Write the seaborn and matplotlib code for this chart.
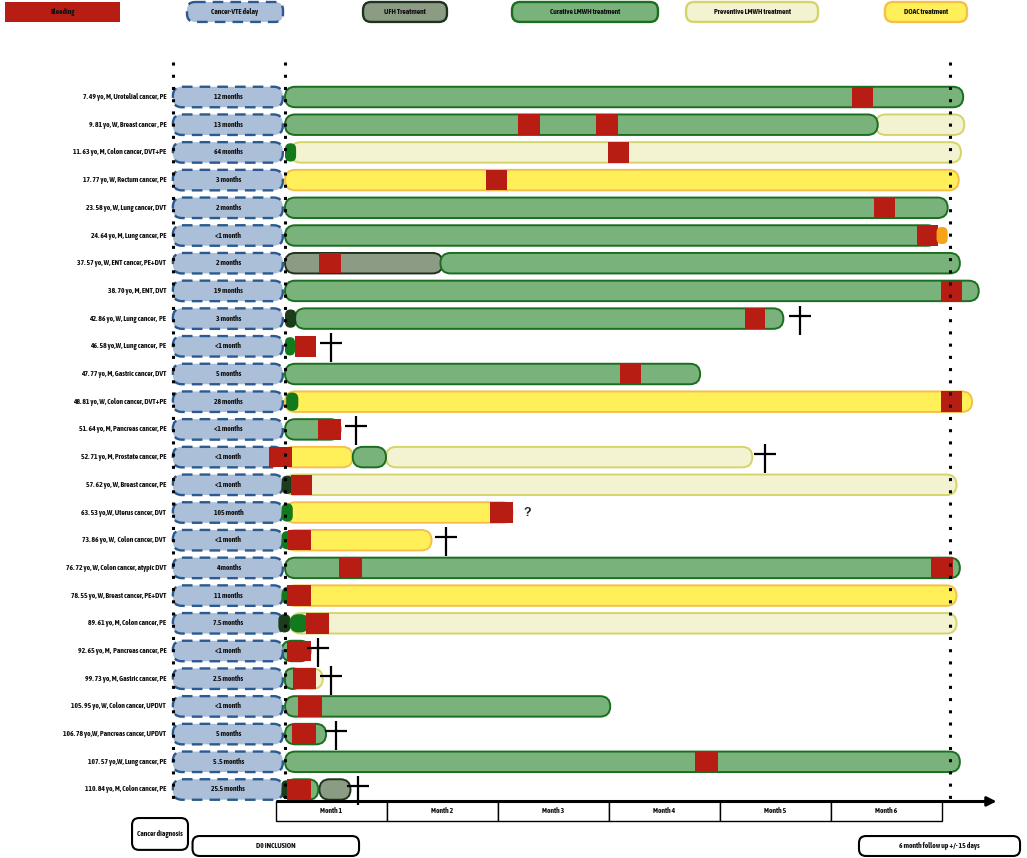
import matplotlib
matplotlib.use("Agg")
import matplotlib.pyplot as plt
import seaborn as sns
import pandas as pd
from matplotlib.patches import FancyBboxPatch, Rectangle
from matplotlib.path import Path
from matplotlib.markers import MarkerStyle

sns.set_theme(style="white")
plt.rcParams['font.family'] = ['Asap Condensed', 'Liberation Sans', 'DejaVu Sans']

# ---------------- data ----------------
patients = [
    "7. 49 yo, M, Urotelial cancer, PE", "9. 81 yo, W, Breast cancer , PE",
    "11. 63 yo, M, Colon cancer, DVT+PE", "17. 77 yo, W, Rectum cancer, PE",
    "23. 58 yo, W, Lung cancer, DVT", "24. 64 yo, M, Lung cancer, PE",
    "37. 57 yo, W, ENT cancer, PE+DVT", "38. 70 yo, M, ENT, DVT",
    "42. 86 yo, W, Lung cancer,  PE", "46. 58 yo,W, Lung cancer,  PE",
    "47. 77 yo, M, Gastric cancer, DVT", "48. 81 yo, W, Colon cancer, DVT+PE",
    "51. 64 yo, M, Pancreas cancer, PE", "52. 71 yo, M, Prostate cancer, PE",
    "57. 62 yo, W, Breast cancer, PE", "63. 53 yo,W, Uterus cancer, DVT",
    "73. 86 yo, W,  Colon cancer, DVT", "76. 72 yo, W, Colon cancer, atypic DVT",
    "78. 55 yo, W, Breast cancer, PE+DVT", "89. 61 yo, M, Colon cancer, PE",
    "92. 65 yo, M,  Pancreas cancer, PE", "99. 73 yo, M, Gastric cancer, PE",
    "105. 95 yo, W, Colon cancer, UPDVT", "106. 78 yo,W, Pancreas cancer, UPDVT",
    "107. 57 yo,W, Lung cancer, PE", "110. 84 yo, M, Colon cancer, PE",
]
delays = ["12 months", "13 months", "64 months", "3 months", "2 months", "<1 month",
          "2 months", "19 months", "3 months", "<1 month", "5 months", "28 months",
          "<1 months", "<1 month", "<1 month", "105 month", "<1 month", "4 months",
          "11 months", "7.5 months", "<1 month", "2.5 months", "<1 month", "5 months",
          "5 .5 months", "25.5 months"]

# treatment segments: (row, start month, end month)
ufh = [(6, 0.0, 1.42), (25, 0.31, 0.59)]
curative = [(0, 0.0, 6.11), (1, 0.0, 5.34), (4, 0.0, 5.97), (5, 0.0, 5.88),
            (6, 1.40, 6.08), (7, 0.0, 6.25), (8, 0.09, 4.49), (10, 0.0, 3.74),
            (12, 0.0, 0.50), (13, 0.61, 0.91), (17, 0.0, 6.08), (20, -0.03, 0.23),
            (22, 0.0, 2.93), (23, 0.0, 0.37), (24, 0.0, 6.08), (25, 0.0, 0.30)]
preventive = [(1, 5.32, 6.12), (2, 0.05, 6.09), (13, 0.91, 4.21), (14, 0.0, 6.05),
              (19, 0.05, 6.05), (21, 0.0, 0.34)]
curative_late = [(21, 0.0, 0.14)]
doac = [(3, 0.0, 6.07), (11, 0.0, 6.19), (13, -0.02, 0.61), (15, 0.0, 2.05),
        (16, 0.0, 1.32), (18, 0.0, 6.05)]
other_doac = [(5, 5.87, 5.97)]
initial_dark = [(8, 0.0, 0.10), (14, -0.03, 0.07), (19, -0.06, 0.05), (25, -0.03, 0.05)]
initial_green = [(2, 0.0, 0.10), (9, 0.0, 0.09), (11, 0.01, 0.12), (15, -0.03, 0.07),
                 (16, -0.03, 0.07), (18, -0.03, 0.10), (19, 0.04, 0.22)]
bleeding = [(0, 5.11, 5.30), (1, 2.10, 2.30), (1, 2.80, 3.00), (2, 2.91, 3.10),
            (3, 1.81, 2.00), (4, 5.31, 5.50), (5, 5.69, 5.88), (6, 0.31, 0.50),
            (7, 5.91, 6.10), (8, 4.14, 4.32), (9, 0.09, 0.28), (10, 3.02, 3.21),
            (11, 5.91, 6.10), (12, 0.30, 0.50), (13, -0.14, 0.06), (14, 0.05, 0.24),
            (15, 1.85, 2.05), (16, 0.03, 0.23), (17, 0.49, 0.69), (17, 5.82, 6.02),
            (18, 0.02, 0.23), (19, 0.19, 0.40), (20, 0.02, 0.23), (21, 0.07, 0.28),
            (22, 0.12, 0.33), (23, 0.06, 0.28), (24, 3.69, 3.90), (25, 0.02, 0.23)]
death_rows = [8, 9, 12, 13, 16, 20, 21, 23, 25]
death_month = [4.64, 0.41, 0.64, 4.32, 1.45, 0.30, 0.41, 0.46, 0.66]
unknown_rows = [15]
unknown_month = [2.18]
month_labels = ["Month 1", "Month 2", "Month 3", "Month 4", "Month 5", "Month 6"]
legend_labels = ["Bleeding", "Cancer-VTE delay", "UFH Treatment",
                 "Curative LMWH treatment", "Preventive LMWH treatment", "DOAC treatment"]

# ---------------- styles ----------------
C_BLEED = "#b81d13"
C_DELAY, E_DELAY = "#abbfd8", "#2a5a90"
C_UFH, E_UFH = "#8c9c84", "#1f331f"
C_CUR, E_CUR = "#79b27b", "#1b6e20"
C_PREV, E_PREV = "#f3f3d1", "#d4d46a"
C_DOAC, E_DOAC = "#fff05a", "#f5c04a"
C_ORANGE = "#f5a416"
C_DARK = "#1b3d1b"
C_GREEN = "#127a1c"
BAR_H = 0.74
FS = 5.4
TXT = dict(fontsize=FS, fontweight="bold", color="#111111")

W_PX, H_PX = 1027, 858
XLIM = (-2.5676, 6.6847)
YLIM = (27.473, -3.502)
PXM = W_PX / (XLIM[1] - XLIM[0])
PXR = H_PX / (YLIM[0] - YLIM[1])

fig = plt.figure(figsize=(W_PX / 100, H_PX / 100), dpi=100)
ax = fig.add_axes([0, 0, 1, 1])
ax.set_xlim(*XLIM)
ax.set_ylim(*YLIM)
ax.axis("off")


def pill(x0, x1, y, fc, ec, lw=1.4, ls="-", h=BAR_H, z=2, r_px=None):
    w = x1 - x0
    if r_px is None:
        r_px = min(h * PXR / 2, w * PXM / 2)
    r_px = min(r_px, h * PXR / 2, w * PXM / 2)
    p = FancyBboxPatch((x0, y - h / 2), w, h,
                       boxstyle=f"round,pad=0,rounding_size={r_px / PXM}",
                       mutation_aspect=PXM / PXR, fc=fc, ec=ec, lw=lw, ls=ls, zorder=z)
    ax.add_patch(p)


def rect(x0, x1, y, fc, h=BAR_H, z=5, ec="none", lw=0):
    ax.add_patch(Rectangle((x0, y - h / 2), x1 - x0, h, fc=fc, ec=ec, lw=lw, zorder=z))


# vertical dotted guides
for xg in (-1.009, 0.0, 5.99):
    ax.plot([xg, xg], [-1.26, 25.38], color="black", lw=2.2, ls=(0, (1, 3.0)), zorder=7)

# rows
for i, (lab, d) in enumerate(zip(patients, delays)):
    ax.text(-1.07, i, lab, ha="right", va="center", **TXT)
    pill(-1.01, -0.02, i, C_DELAY, E_DELAY, lw=1.7, ls=(0, (4.5, 3)), z=3, r_px=9)
    ax.text(-0.51, i, d, ha="center", va="center", zorder=4, **TXT)

for r, a, b in preventive:
    pill(a, b, r, C_PREV, E_PREV, z=2)
for r, a, b in doac:
    pill(a, b, r, C_DOAC, E_DOAC, z=2)
for r, a, b in ufh:
    pill(a, b, r, C_UFH, E_UFH, z=2)
for r, a, b in curative:
    pill(a, b, r, C_CUR, E_CUR, z=2.5)
for r, a, b in curative_late:
    pill(a, b, r, C_CUR, E_CUR, z=2.6)
for r, a, b in other_doac:
    pill(a, b, r, C_ORANGE, "none", lw=0, z=5.5, h=0.62)
for r, a, b in initial_dark:
    pill(a, b, r, C_DARK, "none", lw=0, z=4, h=0.66)
for r, a, b in initial_green:
    pill(a, b, r, C_GREEN, "none", lw=0, z=4, h=0.66)
for r, a, b in bleeding:
    rect(a, b, r, C_BLEED)

# deaths as dagger markers
dagger = Path([(0, 13), (0, -16), (-11, 3), (11, 3)],
              [Path.MOVETO, Path.LINETO, Path.MOVETO, Path.LINETO])
deaths = pd.DataFrame({"month": death_month, "row": death_rows})
sns.scatterplot(data=deaths, x="month", y="row", ax=ax, marker=MarkerStyle(dagger),
                s=(32 * 0.72) ** 2, color="black", edgecolor="black", linewidth=1.6,
                zorder=8, legend=False)
for r, m in zip(unknown_rows, unknown_month):
    ax.text(m, r, "?", ha="center", va="center", fontsize=9, fontweight="bold",
            family=["Liberation Sans", "DejaVu Sans"], zorder=8)
ax.set_xlim(*XLIM)
ax.set_ylim(*YLIM)

# legend row
LY = -3.07
rect(-2.52, -1.49, LY, C_BLEED, h=0.72)
ax.text((-2.52 - 1.49) / 2, LY, legend_labels[0], ha="center", va="center", zorder=6, **TXT)
leg_items = [(-0.883, -0.018, C_DELAY, E_DELAY, (0, (4.5, 3))),
             (0.703, 1.459, C_UFH, E_UFH, "-"),
             (2.045, 3.36, C_CUR, E_CUR, "-"),
             (3.613, 4.802, C_PREV, E_PREV, "-"),
             (5.405, 6.144, C_DOAC, E_DOAC, "-")]
for (a, b, fc, ec, ls), lab in zip(leg_items, legend_labels[1:]):
    pill(a, b, LY, fc, ec, lw=1.7, ls=ls, h=0.72, r_px=8)
    ax.text((a + b) / 2, LY, lab, ha="center", va="center", zorder=6, **TXT)

# time axis
for k, lab in enumerate(month_labels):
    x0 = -0.081 + k
    ax.add_patch(Rectangle((x0, 25.43), 1.0, 0.72, fc="white", ec="black", lw=1.0, zorder=6))
    ax.text(x0 + 0.5, 25.43 + 0.36, lab, ha="center", va="center", zorder=7, **TXT)
ax.plot([-0.081, 6.30], [25.43, 25.43], color="black", lw=2.2, zorder=8,
        solid_capstyle="butt")
ax.annotate("", xy=(6.41, 25.43), xytext=(6.25, 25.43),
            arrowprops=dict(arrowstyle="-|>", lw=2, color="black", mutation_scale=14,
                            shrinkA=0, shrinkB=0), zorder=8)

# bottom milestone boxes
for (a, b, y0, y1, lab) in [(-1.378, -0.874, 26.03, 27.18, "Cancer diagnosis"),
                            (-0.833, 0.667, 26.68, 27.40, "D0 INCLUSION"),
                            (5.171, 6.622, 26.68, 27.40, "6 month follow up +/- 15 days")]:
    h = y1 - y0
    pill(a, b, (y0 + y1) / 2, "white", "black", lw=1.5, h=h, r_px=7, z=6)
    ax.text((a + b) / 2, (y0 + y1) / 2, lab, ha="center", va="center", zorder=7, **TXT)

fig.savefig("out.png", dpi=100)
